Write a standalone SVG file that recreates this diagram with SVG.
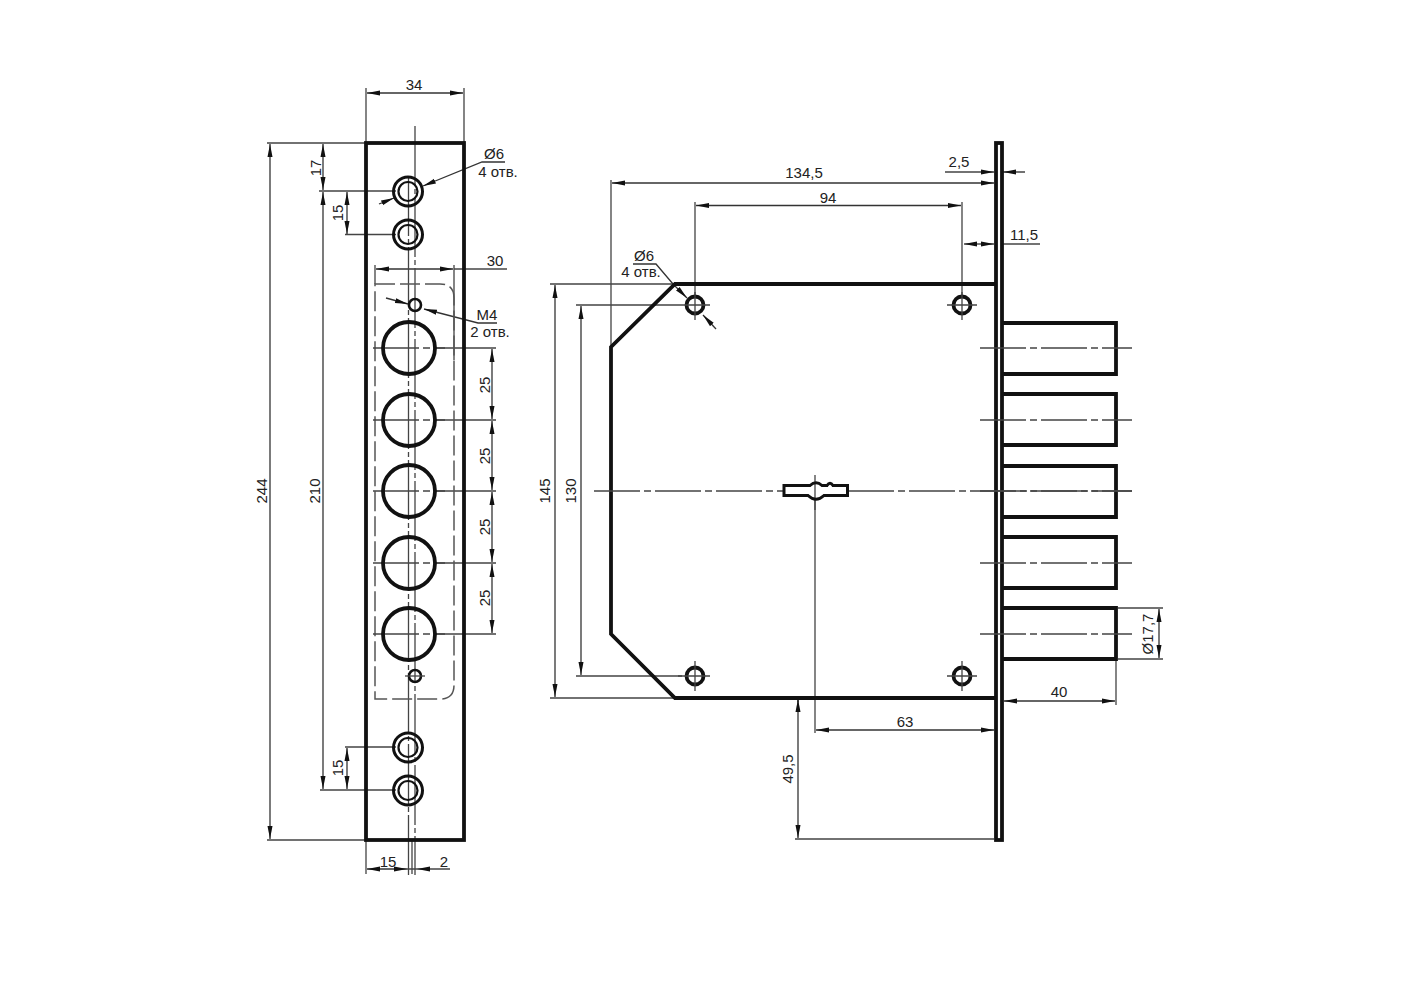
<svg xmlns="http://www.w3.org/2000/svg" width="1418" height="1000" viewBox="0 0 1418 1000">
<style>
.o{fill:none;stroke:#111;stroke-width:3.800}
.h{fill:none;stroke:#111}
.d{fill:none;stroke:#333;stroke-width:1.300;marker-start:url(#as);marker-end:url(#ae)}
.r{fill:none;stroke:#333;stroke-width:1.300;marker-end:url(#ae)}
.e{fill:none;stroke:#444;stroke-width:1.300}
.c{fill:none;stroke:#444;stroke-width:1.300;stroke-dasharray:46 4 7 4}
.cs{fill:none;stroke:#444;stroke-width:1.300}
.ds{fill:none;stroke:#555;stroke-width:1.500;stroke-dasharray:20 5}
text{font-family:"Liberation Sans",Arial,sans-serif;font-size:15px;fill:#222}
.m{text-anchor:middle}
</style>
<defs>
<marker id="ae" markerUnits="userSpaceOnUse" markerWidth="14" markerHeight="8" refX="13" refY="4" orient="auto"><path d="M0 1.500L13 4L0 6.500Z" fill="#111"/></marker>
<marker id="as" markerUnits="userSpaceOnUse" markerWidth="14" markerHeight="8" refX="1" refY="4" orient="auto"><path d="M14 1.500L1 4L14 6.500Z" fill="#111"/></marker>
</defs>
<rect width="1418" height="1000" fill="#fff"/>
<g id="connectors">
<path class="e" d="M366 143V88M464 143V88M366 840V874M412 840V874M267 143H366M267 840H366M319 191H396M345 234.500H396M320 790H396M345 747H396M375 265V284M454 265V360M798 698V702M795 839H994M815 500V733M1116 659V705M962 202V296M695 202V296M611 180V347M550 284H675M576 305H682M576 676H682M550 698H675M1118 608H1163M1118 659H1163"/>
<path class="d" d="M367 93H463"/>
<path class="d" d="M367 869H407"/>
<path class="e" d="M407 869H450"/>
<path d="M417 869L430 866.500V871.500Z" fill="#111"/>
<path class="d" d="M270 144V839"/>
<path class="d" d="M323 144V190"/>
<path class="d" d="M323 192V789"/>
<path class="d" d="M347 192V234"/>
<path class="d" d="M347 748V789"/>
<path class="d" d="M376 269H453"/>
<path class="e" d="M454 269H507"/>
<path class="d" d="M492 349V419"/><path class="d" d="M492 421V490"/><path class="d" d="M492 492V562"/><path class="d" d="M492 564V633"/>
<path class="e" d="M436 348H496M436 420H496M436 491H496M436 563H496M436 634H496"/>
<path class="d" d="M612 183H994"/>
<path class="d" d="M696 205.500H961"/>
<path class="d" d="M964 244H994"/>
<path class="e" d="M1002 244H1040"/>
<path class="d" d="M555 285V697"/>
<path class="d" d="M581 306V675"/>
<path class="d" d="M816 730H994"/>
<path class="d" d="M798 699V838"/>
<path class="d" d="M1004 701H1115"/>
<path class="d" d="M1159 609V658"/>
<path class="e" d="M945 172H994M1003 172H1025"/>
<path d="M994 172L981 169.500V174.500ZM1003 172L1016 169.500V174.500Z" fill="#111"/>
<path class="r" d="M379 204L394 198"/>
<path class="r" d="M505 162H482L423 186"/>
<path class="r" d="M386 298L408 304"/>
<path class="r" d="M497 323H478L424 309"/>
<path class="r" d="M633 264H656L673 284L687 298"/>
<path class="r" d="M716 329L703 315"/>
</g>
<g id="left-plate">
<path class="cs" stroke-dasharray="60 3 5 3" d="M415 126V875"/>
<path class="cs" stroke-dasharray="60 3 5 3" d="M408.500 176V875"/>
<rect class="o" x="366" y="143" width="98" height="697"/>
<path class="ds" d="M375 284H440Q454 284 454 298V685Q454 699 440 699H375Z"/>
<path class="c" d="M373 348H445M373 420H445M373 491H445M373 563H445M373 634H445"/>
</g>
<g id="screw-holes-left">
<g class="hole"><circle class="h" stroke-width="3" cx="408" cy="191.500" r="14.500"/><circle class="h" stroke-width="2.200" cx="408" cy="191.500" r="9.500"/></g>
<g class="hole"><circle class="h" stroke-width="3" cx="408" cy="234.500" r="14.500"/><circle class="h" stroke-width="2.200" cx="408" cy="234.500" r="9.500"/></g>
<g class="hole"><circle class="h" stroke-width="3" cx="408" cy="747.500" r="14.500"/><circle class="h" stroke-width="2.200" cx="408" cy="747.500" r="9.500"/></g>
<g class="hole"><circle class="h" stroke-width="3" cx="408" cy="790.500" r="14.500"/><circle class="h" stroke-width="2.200" cx="408" cy="790.500" r="9.500"/></g>
</g>
<g id="large-holes">
<circle class="o" cx="409" cy="348" r="26"/>
<circle class="o" cx="409" cy="420" r="26"/>
<circle class="o" cx="409" cy="491" r="26"/>
<circle class="o" cx="409" cy="563" r="26"/>
<circle class="o" cx="409" cy="634" r="26"/>
</g>
<g id="m4-holes">
<circle class="h" stroke-width="2.600" cx="415" cy="305" r="6"/>
<circle class="h" stroke-width="2.600" cx="415" cy="676" r="6"/>
<path class="cs" d="M405 676H425"/>
</g>
<g id="lock-body">
<path class="o" d="M995 284H675L611 347V634L675 698H995"/>
</g>
<g id="faceplate">
<rect class="o" x="996" y="143" width="6" height="697"/>
</g>
<g id="bolts">
<path class="o" d="M1003 323H1116V374H1003M1003 394H1116V445H1003M1003 466H1116V517H1003M1003 537H1116V588H1003M1003 608H1116V659H1003"/>
<path class="c" d="M980 348H1132M980 420H1132M980 491H1132M980 563H1132M980 634H1132"/>
</g>
<g id="centre-line">
<path class="c" d="M594 491H783M848 491H1132"/>
<path class="cs" d="M815 475V510"/>
</g>
<g id="keyhole">
<path class="o" style="stroke-width:3" d="M784 485.500H810Q816 480 822 485.500L827 485.500Q830 481 833 485.500H847.500V495.500H824Q816 503 808 495.500H784Z"/>
</g>
<g id="body-holes">
<g><circle class="o" cx="695" cy="305" r="8.500"/><path class="cs" d="M682 305H710M695 292V320"/></g>
<g><circle class="o" cx="962" cy="305" r="8.500"/><path class="cs" d="M947 305H977M962 292V320"/></g>
<g><circle class="o" cx="695" cy="676" r="8.500"/><path class="cs" d="M678 676H710M695 661V691"/></g>
<g><circle class="o" cx="962" cy="676" r="8.500"/><path class="cs" d="M947 676H977M962 661V691"/></g>
</g>
<g id="labels">
<text class="m" x="414" y="90">34</text>
<text class="m" x="494" y="159">Ø6</text>
<text class="m" x="498" y="177">4 отв.</text>
<text class="m" x="495" y="266">30</text>
<text class="m" x="487" y="320">M4</text>
<text class="m" x="490" y="337">2 отв.</text>
<text class="m" x="388" y="867">15</text>
<text class="m" x="444" y="867">2</text>
<text class="m" x="644" y="261">Ø6</text>
<text class="m" x="641" y="277">4 отв.</text>
<text class="m" x="804" y="178">134,5</text>
<text class="m" x="828" y="203">94</text>
<text class="m" x="959" y="167">2,5</text>
<text class="m" x="1024" y="240">11,5</text>
<text class="m" x="905" y="727">63</text>
<text class="m" x="1059" y="697">40</text>
<text class="m" transform="translate(267 491) rotate(-90)">244</text>
<text class="m" transform="translate(320 491) rotate(-90)">210</text>
<text class="m" transform="translate(321 168) rotate(-90)">17</text>
<text class="m" transform="translate(343 213) rotate(-90)">15</text>
<text class="m" transform="translate(343 768) rotate(-90)">15</text>
<text class="m" transform="translate(490 385) rotate(-90)">25</text>
<text class="m" transform="translate(490 456) rotate(-90)">25</text>
<text class="m" transform="translate(490 527) rotate(-90)">25</text>
<text class="m" transform="translate(490 598) rotate(-90)">25</text>
<text class="m" transform="translate(550 491) rotate(-90)">145</text>
<text class="m" transform="translate(576 491) rotate(-90)">130</text>
<text class="m" transform="translate(793 769) rotate(-90)">49,5</text>
<text class="m" transform="translate(1153 634) rotate(-90)">Ø17,7</text>
</g>
</svg>
